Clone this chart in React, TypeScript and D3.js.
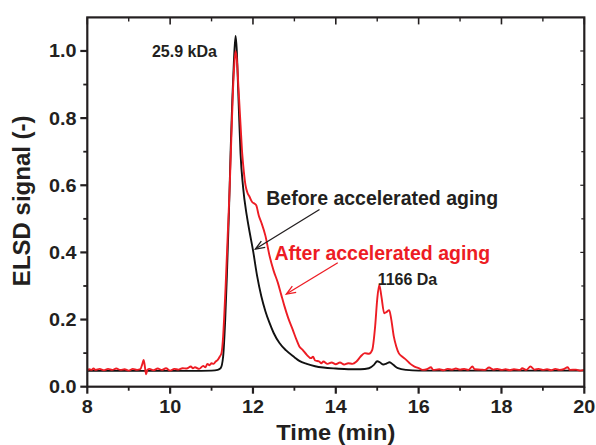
import React from "react";
import * as d3 from "d3";

// ---- data (time in min, ELSD signal) ----
const beforeTime = [8.0, 8.5, 9.0, 9.5, 10.0, 10.5, 11.0, 11.15, 11.22, 11.28, 11.33, 11.37, 11.42, 11.46, 11.5, 11.54, 11.58, 11.61, 11.64, 11.67, 11.7, 11.76, 11.85, 11.92, 12.0, 12.1, 12.2, 12.3, 12.4, 12.5, 12.64, 12.8, 13.0, 13.12, 13.3, 13.5, 13.7, 14.0, 14.3, 14.6, 14.8, 14.92, 15.0, 15.07, 15.15, 15.22, 15.3, 15.38, 15.5, 15.7, 16.0, 17.0, 18.0, 19.0, 20.0];
const beforeSignal = [0.047, 0.047, 0.047, 0.047, 0.047, 0.047, 0.048, 0.05, 0.055, 0.09, 0.2, 0.33, 0.52, 0.7, 0.85, 0.97, 1.045, 1.0, 0.894, 0.79, 0.695, 0.596, 0.51, 0.46, 0.407, 0.33, 0.27, 0.225, 0.19, 0.16, 0.13, 0.108, 0.088, 0.077, 0.068, 0.061, 0.057, 0.054, 0.052, 0.052, 0.055, 0.065, 0.076, 0.072, 0.066, 0.069, 0.073, 0.066, 0.055, 0.05, 0.048, 0.048, 0.048, 0.048, 0.048];

const afterTime = [8.0, 8.05, 8.1, 8.15, 8.2, 8.3, 8.4, 8.5, 8.6, 8.7, 8.8, 8.9, 9.0, 9.1, 9.2, 9.28, 9.33, 9.36, 9.39, 9.42, 9.45, 9.5, 9.6, 9.7, 9.8, 9.9, 10.0, 10.1, 10.2, 10.3, 10.4, 10.5, 10.55, 10.6, 10.7, 10.8, 10.85, 10.9, 10.95, 11.0, 11.05, 11.1, 11.15, 11.2, 11.24, 11.28, 11.31, 11.34, 11.39, 11.44, 11.48, 11.52, 11.55, 11.58, 11.62, 11.65, 11.7, 11.74, 11.78, 11.82, 11.86, 11.92, 11.98, 12.04, 12.08, 12.14, 12.2, 12.3, 12.4, 12.5, 12.6, 12.68, 12.76, 12.85, 12.96, 13.05, 13.12, 13.2, 13.3, 13.4, 13.45, 13.5, 13.6, 13.65, 13.7, 13.8, 13.9, 14.0, 14.1, 14.2, 14.3, 14.4, 14.5, 14.6, 14.7, 14.8, 14.88, 14.95, 15.0, 15.05, 15.1, 15.17, 15.22, 15.29, 15.34, 15.4, 15.46, 15.52, 15.6, 15.7, 15.8, 15.9, 16.0, 16.1, 16.2, 16.3, 16.35, 16.5, 16.6, 16.7, 16.8, 16.9, 17.0, 17.1, 17.2, 17.3, 17.35, 17.5, 17.6, 17.7, 17.8, 17.9, 18.0, 18.1, 18.2, 18.3, 18.45, 18.5, 18.6, 18.7, 18.8, 18.9, 19.0, 19.1, 19.2, 19.3, 19.4, 19.5, 19.6, 19.65, 19.8, 19.9, 20.0];
const afterSignal = [0.048, 0.052, 0.05, 0.054, 0.05, 0.053, 0.049, 0.053, 0.05, 0.054, 0.05, 0.052, 0.048, 0.053, 0.05, 0.052, 0.068, 0.08, 0.06, 0.037, 0.05, 0.053, 0.049, 0.054, 0.05, 0.055, 0.048, 0.053, 0.051, 0.055, 0.054, 0.06, 0.055, 0.058, 0.053, 0.062, 0.058, 0.068, 0.064, 0.07, 0.068, 0.075, 0.08, 0.09, 0.1, 0.15, 0.22, 0.3, 0.45, 0.6, 0.75, 0.89, 0.96, 1.0, 0.96, 0.89, 0.78, 0.695, 0.64, 0.6, 0.58, 0.565, 0.55, 0.545, 0.54, 0.51, 0.49, 0.45, 0.39, 0.345, 0.31, 0.275, 0.24, 0.205, 0.17, 0.14, 0.12, 0.11, 0.095, 0.085, 0.089, 0.078, 0.075, 0.07, 0.075, 0.068, 0.072, 0.067, 0.072, 0.066, 0.07, 0.068, 0.075, 0.09, 0.1, 0.098, 0.11, 0.18, 0.26, 0.303, 0.27, 0.219, 0.222, 0.228, 0.2, 0.15, 0.12, 0.1, 0.09, 0.08, 0.068, 0.06, 0.055, 0.05, 0.052, 0.058, 0.05, 0.052, 0.049, 0.053, 0.051, 0.054, 0.051, 0.053, 0.05, 0.06, 0.052, 0.051, 0.05, 0.057, 0.051, 0.053, 0.05, 0.052, 0.049, 0.052, 0.05, 0.055, 0.05, 0.06, 0.051, 0.053, 0.05, 0.052, 0.049, 0.053, 0.05, 0.052, 0.058, 0.05, 0.051, 0.048, 0.05];

const xMajorTicks = [8, 10, 12, 14, 16, 18, 20];
const xMinorTicks = [9, 11, 13, 15, 17, 19];
const yMajorTicks = [0.0, 0.2, 0.4, 0.6, 0.8, 1.0];
const yMinorTicks = [0.1, 0.3, 0.5, 0.7, 0.9];

const xTitle = "Time (min)";
const yTitle = "ELSD signal (-)";

// annotations in data coordinates
const peakLabels = [
  { text: "25.9 kDa", t: 9.56, v: 0.981 },
  { text: "1166 Da", t: 15.01, v: 0.303 },
];
const seriesLabels = [
  { text: "Before accelerated aging", t: 12.32, v: 0.541, color: "#231f20" },
  { text: "After accelerated aging", t: 12.52, v: 0.377, color: "#ed1c24" },
];
const arrows = [
  { t0: 13.607, v0: 0.528, t1: 12.058, v1: 0.41, color: "#231f20" },
  { t0: 14.048, v0: 0.369, t1: 12.805, v1: 0.276, color: "#ed1c24" },
];

const W = 596;
const H = 445;
const L = 87.3;
const R = 584.3;
const T = 17.4;
const B = 386.7;

const FONT = "'Liberation Sans', Arial, Helvetica, sans-serif";

export default function App() {
  const x = d3.scaleLinear().domain([8, 20]).range([L, R]);
  const y = d3.scaleLinear().domain([0, 1.1]).range([B, T]);

  const mk = (ts: number[], vs: number[]) =>
    d3
      .line<number>()
      .x((t) => x(t))
      .y((_, i) => y(vs[i]))
      .curve(d3.curveMonotoneX)(ts) || "";

  const blackPath = mk(beforeTime, beforeSignal);
  const redPath = mk(afterTime, afterSignal);

  const majorLen = 7;
  const minorLen = 4;
  const axisW = 2.2;

  return (
    <svg
      width={W}
      height={H}
      style={{ position: "absolute", left: 0, top: 0, background: "#fff" }}
      fontFamily={FONT}
    >
      <rect x={0} y={0} width={W} height={H} fill="#fff" />
      <defs>
        <clipPath id="plot">
          <rect x={L} y={T} width={R - L} height={B - T} />
        </clipPath>
      </defs>

      {/* curves */}
      <g clipPath="url(#plot)">
        <path d={blackPath} fill="none" stroke="#111" strokeWidth={1.9} strokeLinejoin="round" />
        <path d={redPath} fill="none" stroke="#ed1c24" strokeWidth={1.9} strokeLinejoin="round" />
      </g>

      {/* frame */}
      <rect x={L} y={T} width={R - L} height={B - T} fill="none" stroke="#231f20" strokeWidth={axisW} />

      {/* x ticks bottom (outward) and top (inward) */}
      {xMajorTicks.map((t) => (
        <g key={"xM" + t}>
          <line x1={x(t)} x2={x(t)} y1={B} y2={B + majorLen} stroke="#231f20" strokeWidth={axisW} />
          <line x1={x(t)} x2={x(t)} y1={T} y2={T + majorLen} stroke="#231f20" strokeWidth={1.6} />
          <text
            transform={`translate(${x(t)},${413}) scale(1.1,1)`}
            textAnchor="middle"
            fontSize={18}
            fontWeight="bold"
            fill="#231f20"
          >
            {t}
          </text>
        </g>
      ))}
      {xMinorTicks.map((t) => (
        <g key={"xm" + t}>
          <line x1={x(t)} x2={x(t)} y1={B} y2={B + minorLen} stroke="#231f20" strokeWidth={1.8} />
          <line x1={x(t)} x2={x(t)} y1={T} y2={T + minorLen} stroke="#231f20" strokeWidth={1.4} />
        </g>
      ))}

      {/* y ticks left (outward) and right (inward) */}
      {yMajorTicks.map((v) => (
        <g key={"yM" + v}>
          <line x1={L - majorLen} x2={L} y1={y(v)} y2={y(v)} stroke="#231f20" strokeWidth={axisW} />
          <line x1={R - 4} x2={R} y1={y(v)} y2={y(v)} stroke="#231f20" strokeWidth={1.2} />
          <text
            transform={`translate(${76.5},${y(v) + 6.4}) scale(1.1,1)`}
            textAnchor="end"
            fontSize={18}
            fontWeight="bold"
            fill="#231f20"
          >
            {v.toFixed(1)}
          </text>
        </g>
      ))}
      {yMinorTicks.map((v) => (
        <g key={"ym" + v}>
          <line x1={L - minorLen} x2={L} y1={y(v)} y2={y(v)} stroke="#231f20" strokeWidth={1.8} />
          <line x1={R - 3} x2={R} y1={y(v)} y2={y(v)} stroke="#231f20" strokeWidth={1.2} />
        </g>
      ))}

      {/* axis titles */}
      <text
        transform={`translate(${(L + R) / 2},${439.5}) scale(1.05,1)`}
        textAnchor="middle"
        fontSize={22.5}
        fontWeight="bold"
        fill="#231f20"
      >
        {xTitle}
      </text>
      <text
        transform={`translate(${29.5},${200.8}) rotate(-90)`}
        textAnchor="middle"
        fontSize={24}
        fontWeight="bold"
        fill="#231f20"
      >
        {yTitle}
      </text>

      {/* peak labels */}
      {peakLabels.map((p) => (
        <text key={p.text} x={x(p.t)} y={y(p.v)} fontSize={16} fontWeight="bold" fill="#231f20">
          {p.text}
        </text>
      ))}

      {/* series labels */}
      {seriesLabels.map((s) => (
        <text key={s.text} x={x(s.t)} y={y(s.v)} fontSize={19.5} fontWeight="bold" fill={s.color}>
          {s.text}
        </text>
      ))}

      {/* arrows */}
      {arrows.map((a, i) => {
        const x0 = x(a.t0);
        const y0 = y(a.v0);
        const x1 = x(a.t1);
        const y1 = y(a.v1);
        const ang = Math.atan2(y1 - y0, x1 - x0);
        const hl = 10;
        const spread = 0.38;
        const ax = x1 - hl * Math.cos(ang - spread);
        const ay = y1 - hl * Math.sin(ang - spread);
        const bx = x1 - hl * Math.cos(ang + spread);
        const by = y1 - hl * Math.sin(ang + spread);
        return (
          <g key={"ar" + i} stroke={a.color} strokeWidth={1.3} fill="none">
            <line x1={x0} y1={y0} x2={x1} y2={y1} />
            <polyline points={`${ax},${ay} ${x1},${y1} ${bx},${by}`} />
          </g>
        );
      })}
    </svg>
  );
}
